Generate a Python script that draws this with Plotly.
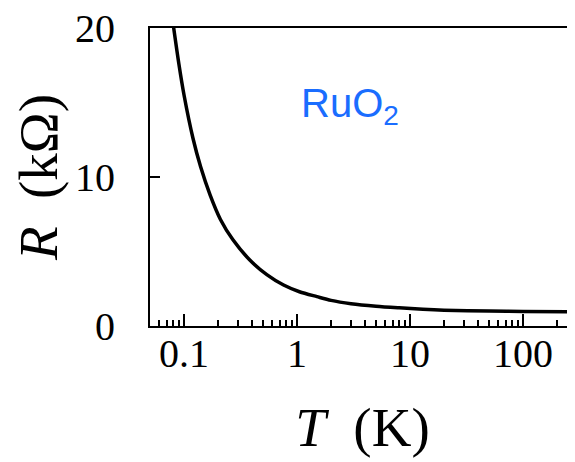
import plotly.graph_objects as go
import math

# Data
T_K = [0.08, 0.09, 0.1, 0.12, 0.14, 0.17, 0.21, 0.27, 0.38, 0.54, 0.76, 1.05, 1.5, 2.0, 3.0, 5.0, 8.0, 13.0, 20.0, 50.0, 100.0, 300.0]
R_kohm = [20.3, 17.6, 15.5, 12.6, 10.7, 8.8, 7.15, 5.8, 4.45, 3.45, 2.75, 2.3, 1.97, 1.72, 1.5, 1.33, 1.22, 1.12, 1.06, 1.0, 0.98, 0.95]

x_tickvals = [0.1, 1, 10, 100]
x_ticktext = ["0.1", "1", "10", "100"]
x_minor = [0.06, 0.07, 0.08, 0.09,
           0.2, 0.3, 0.4, 0.5, 0.6, 0.7, 0.8, 0.9,
           2, 3, 4, 5, 6, 7, 8, 9,
           20, 30, 40, 50, 60, 70, 80, 90,
           200]
y_tickvals = [0, 10, 20]
label_text = "RuO<sub>2</sub>"

serif = "Liberation Serif"

fig = go.Figure()
fig.add_trace(go.Scatter(x=T_K, y=R_kohm, mode="lines",
                         line=dict(color="black", width=3.5, shape="spline", smoothing=0.8),
                         showlegend=False))

# the page body adds an 8px offset, so the margins are shifted by it
fig.update_layout(
    width=575, height=462,
    margin=dict(l=142, r=8, t=20, b=144),
    paper_bgcolor="white", plot_bgcolor="white",
    font=dict(family=serif, color="black", size=40),
)
fig.update_xaxes(
    type="log", range=[math.log10(0.05), math.log10(288)],
    tickvals=x_tickvals, ticktext=x_ticktext,
    ticks="inside", ticklen=12, tickwidth=2, tickcolor="black",
    minor=dict(tickvals=x_minor, ticks="inside", ticklen=6, tickwidth=2, tickcolor="black", showgrid=False),
    showline=True, linecolor="black", linewidth=2, mirror=True,
    showgrid=False, zeroline=False, automargin=False,
    ticklabelstandoff=-9, ticklabeloverflow="allow",
    tickfont=dict(family=serif, size=40),
    title=dict(text="<i>T</i>&nbsp; (K)", font=dict(family=serif, size=55), standoff=32),
)
fig.update_yaxes(
    range=[0, 20], tickvals=y_tickvals,
    ticks="inside", ticklen=10, tickwidth=2, tickcolor="black",
    showline=True, linecolor="black", linewidth=2, mirror=False,
    showgrid=False, zeroline=False, automargin=False,
    ticklabelstandoff=25, ticklabeloverflow="allow",
    tickfont=dict(family=serif, size=40),
    title=dict(text="<i>R</i>&nbsp; (kΩ)", font=dict(family=serif, size=55), standoff=10),
)
fig.add_annotation(text=label_text, xref="paper", yref="paper", x=0.47, y=0.83,
                   showarrow=False, font=dict(family="Liberation Sans", size=40, color="#1a6dff"))

fig.write_html("out.html")
